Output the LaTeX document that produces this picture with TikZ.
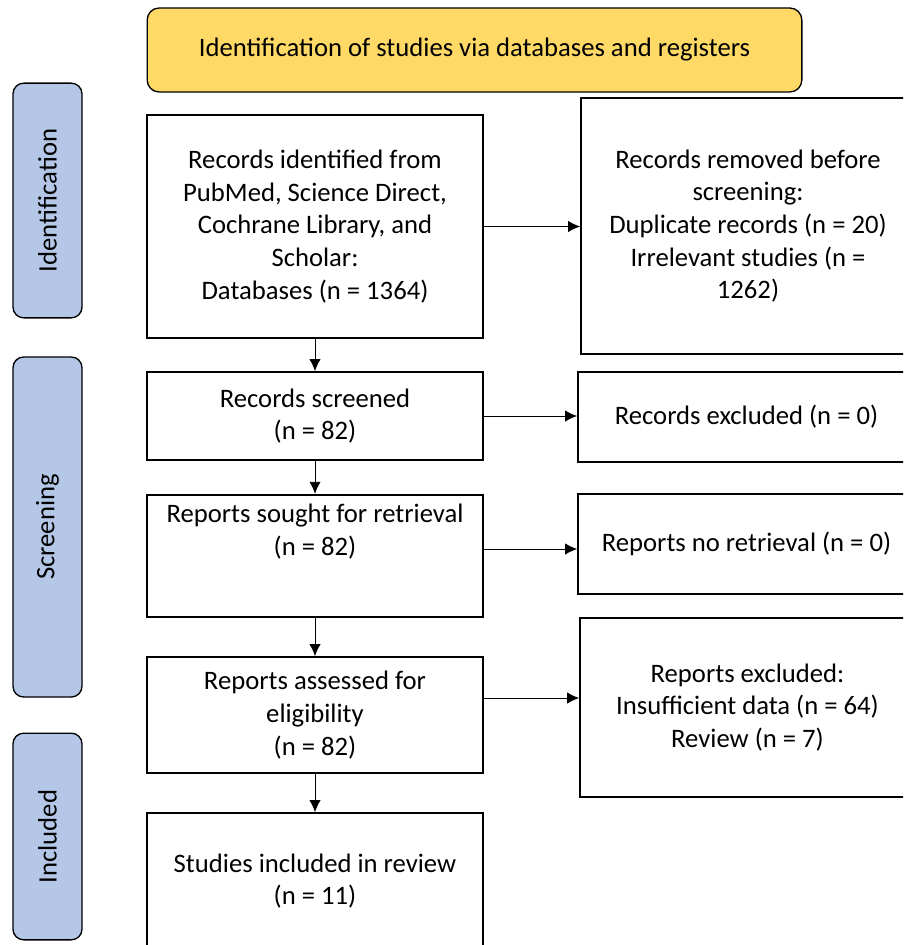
\documentclass[tikz,border=0pt]{standalone}
\usepackage{fontspec}
\setmainfont{Carlito}
\usepackage{xcolor}
\usetikzlibrary{calc, positioning, arrows.meta}

\begin{document}
\begin{tikzpicture}[x=0.75pt, y=-0.75pt]
    \tikzset{
      banner/.style={
        rectangle, rounded corners=9pt, draw, line width=1pt,
        fill={rgb,255:red,255;green,217;blue,102},
        minimum width=491pt, minimum height=63pt,
      },
      phase/.style={
        rectangle, rounded corners=8pt, draw, line width=1pt, rotate=90,
        fill={rgb,255:red,180;green,199;blue,231},
        minimum height=51.75pt,
      },
      stage/.style={
        rectangle, draw, line width=1.3pt, align=center,
        minimum width=252pt,
      },
      link/.style={
        -{Latex[length=9pt, width=8.5pt]}, draw, line width=0.7pt,
      },
    }
    \fontsize{20pt}{24.5pt}\selectfont

    \clip (0,0) rectangle (903,945);

    % header and phases
    \node[banner] (head) at (474.5,50) {Identification of studies via databases and registers};
    \node[phase, minimum width=176pt] (ident) at (47.5,200.5) {Identification};
    \node[phase, minimum width=255pt] (screen) at (47.5,527) {Screening};
    \node[phase, minimum width=155pt] (incd) at (47.5,836.5) {Included};

    % main column
    \node[stage, minimum height=167pt] (rec) at (315,226.5)
      {Records identified from\\PubMed, Science Direct,\\Cochrane Library, and\\Scholar:\\Databases (n = 1364)};
    \node[stage, minimum height=66pt] (scr) at (315,416) {Records screened\\(n = 82)};
    \node[stage, minimum height=92pt] (sought) at (315,556)
      {Reports sought for retrieval\\(n = 82)\\\rule{0pt}{36pt}};
    \node[stage, minimum height=87pt] (assess) at (315,715) {Reports assessed for\\eligibility\\(n = 82)};
    \node[stage, minimum height=102pt] (incl) at (315,881) {Studies included in review\\(n = 11)};

    % side column
    \node[stage, minimum width=250.5pt, minimum height=192pt] (removed) at (748,226)
      {Records removed before\\screening:\\Duplicate records (n = 20)\\Irrelevant studies (n =\\1262)};
    \node[stage, minimum width=252.75pt, minimum height=67.5pt] (excl) at (746.5,417) {Records excluded (n = 0)};
    \node[stage, minimum width=252.75pt, minimum height=75pt] (noret) at (746.5,544) {Reports no retrieval (n = 0)};
    \node[stage, minimum width=251.25pt, minimum height=134pt] (repexcl) at (747.5,707.5)
      {Reports excluded:\\Insufficient data (n = 64)\\Review (n = 7)};

    \draw[link] (rec) -- (scr);
    \draw[link] (scr) -- (sought);
    \draw[link] (sought) -- (assess);
    \draw[link] (assess) -- (incl);

    \coordinate (out3) at ($(sought.east)+(0,-7)$);
    \coordinate (out4) at ($(assess.east)+(0,-17)$);
    \draw[link] (rec.east) -- (rec.east -| removed.west);
    \draw[link] (scr.east) -- (scr.east -| excl.west);
    \draw[link] (out3) -- (out3 -| noret.west);
    \draw[link] (out4) -- (out4 -| repexcl.west);
  \end{tikzpicture}
\end{document}
